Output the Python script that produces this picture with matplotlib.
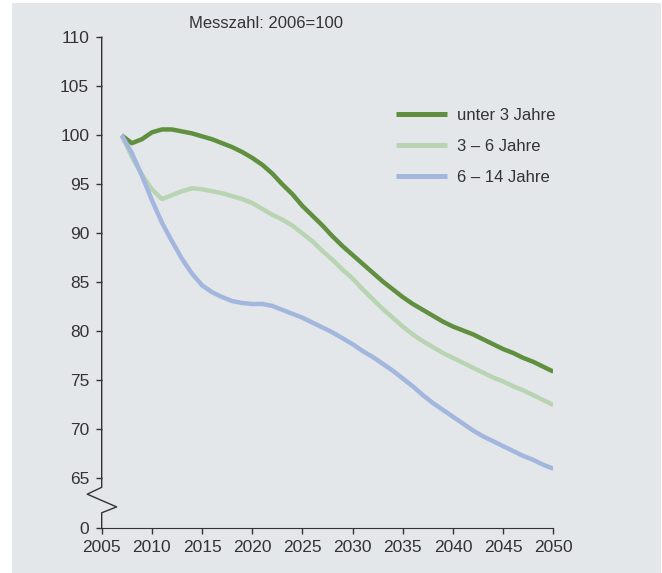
import matplotlib
matplotlib.use('Agg')
import matplotlib.pyplot as plt
from matplotlib.patches import Rectangle
import matplotlib.transforms as mtransforms

plt.rcParams['font.family'] = ['Liberation Sans', 'DejaVu Sans']

# values (index 2006 = 100)
years = list(range(2007, 2051))
unter3 = [100.0, 99.2, 99.6, 100.3, 100.6, 100.6, 100.4, 100.2, 99.9, 99.6,
          99.2, 98.8, 98.3, 97.7, 97.0, 96.1, 95.0, 94.0, 92.8, 91.8,
          90.8, 89.7, 88.7, 87.8, 86.9, 86.0, 85.1, 84.3, 83.5, 82.8,
          82.2, 81.6, 81.0, 80.5, 80.1, 79.7, 79.2, 78.7, 78.2, 77.8,
          77.3, 76.9, 76.4, 75.9]
j3_6 = [100.0, 97.8, 96.0, 94.5, 93.5, 93.9, 94.3, 94.6, 94.5, 94.3,
        94.1, 93.8, 93.5, 93.1, 92.5, 91.9, 91.4, 90.8, 90.0, 89.2,
        88.2, 87.3, 86.3, 85.4, 84.3, 83.3, 82.3, 81.4, 80.5, 79.7,
        79.0, 78.4, 77.8, 77.3, 76.8, 76.3, 75.8, 75.3, 74.9, 74.4,
        74.0, 73.5, 73.0, 72.5]
j6_14 = [100.0, 98.2, 95.9, 93.4, 91.1, 89.2, 87.4, 85.9, 84.7, 84.0,
         83.5, 83.1, 82.9, 82.8, 82.8, 82.6, 82.2, 81.8, 81.4, 80.9,
         80.4, 79.9, 79.3, 78.7, 78.0, 77.4, 76.7, 76.0, 75.2, 74.4,
         73.5, 72.7, 72.0, 71.3, 70.6, 69.9, 69.3, 68.8, 68.3, 67.8,
         67.3, 66.9, 66.4, 66.0]
labels = ['unter 3 Jahre', '3 – 6 Jahre', '6 – 14 Jahre']
colors = ['#5f8f3f', '#b9d4b3', '#a3b6dd']

xticks = list(range(2005, 2051, 5))
yticks = [60, 65, 70, 75, 80, 85, 90, 95, 100, 105, 110]
yticklabels = ['0', '65', '70', '75', '80', '85', '90', '95', '100', '105', '110']

bg = '#e4e7ea'
fig = plt.figure(figsize=(6.62, 5.73), dpi=100)
fig.patch.set_facecolor('white')
fig.patches.append(Rectangle((12 / 662, 0), 649 / 662, 570 / 573, transform=fig.transFigure,
                             facecolor=bg, edgecolor='none', zorder=-10))

ax = fig.add_axes([101.7 / 662, 45.5 / 573, 451.6 / 662, 490.2 / 573])
ax.set_facecolor('none')

for vals, lab, c in zip([unter3, j3_6, j6_14], labels, colors):
    ax.plot(years, vals, color=c, lw=3.2, label=lab, solid_capstyle='butt')

ax.set_xlim(2005, 2050)
ax.set_ylim(60, 110)
ax.set_xticks(xticks)
ax.set_yticks(yticks)
ax.set_yticklabels(yticklabels)
ax.tick_params(labelsize=12.5, colors='#333333', length=4, width=1, pad=5)

for s in ['top', 'right', 'left']:
    ax.spines[s].set_visible(False)
ax.spines['bottom'].set_color('#333333')

# broken y axis with zigzag
tr = mtransforms.blended_transform_factory(ax.transAxes, ax.transData)
ax.plot([0, 0, -0.032, 0.033, 0, 0], [110, 64.1, 63.4, 62.1, 61.5, 60],
        color='#333333', lw=1, transform=tr, clip_on=False)

leg = ax.legend(loc='upper left', bbox_to_anchor=(0.651, 0.856), frameon=False,
                fontsize=12, handlelength=3.1, handletextpad=0.55, labelspacing=0.95,
                borderaxespad=0, borderpad=0)
for t in leg.get_texts():
    t.set_color('#333333')
for l in leg.get_lines():
    l.set_linewidth(3.6)

fig.text(266 / 662, 1 - 23 / 573, 'Messzahl: 2006=100', ha='center', va='center',
         fontsize=12, color='#333333')

fig.savefig('out.png', dpi=100, facecolor=fig.get_facecolor())
